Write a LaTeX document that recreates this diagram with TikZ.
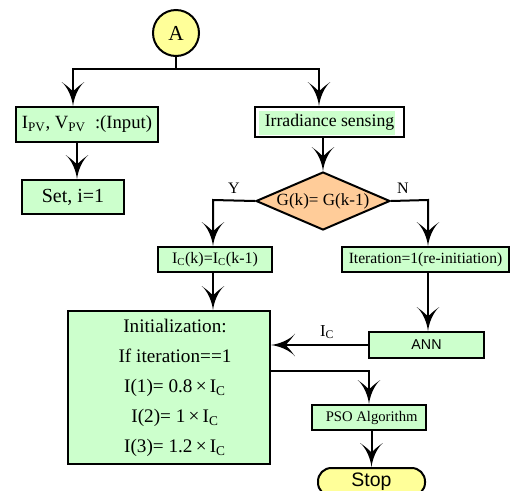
\documentclass[tikz,border=0pt]{standalone}
\usepackage{fontspec}
\setmainfont{Liberation Serif}
\newfontfamily\arialfont{Liberation Sans}
\usetikzlibrary{arrows.meta,shapes.geometric}

% Flared arrow head with concave sides and a notched back
\pgfdeclarearrow{
  name = Flare,
  parameters = {\the\pgfarrowlength,\the\pgfarrowwidth},
  setup code = {
    \pgfarrowssettipend{0pt}
    \pgfarrowssetbackend{-\pgfarrowlength}
    \pgfarrowssetvisualbackend{-0.6\pgfarrowlength}
    \pgfarrowssetlineend{-0.5\pgfarrowlength}
    \pgfarrowshullpoint{0pt}{0pt}
    \pgfarrowshullpoint{-\pgfarrowlength}{0.5\pgfarrowwidth}
    \pgfarrowshullpoint{-\pgfarrowlength}{-0.5\pgfarrowwidth}
    \pgfarrowssavethe\pgfarrowlength
    \pgfarrowssavethe\pgfarrowwidth
  },
  drawing code = {
    \pgfpathmoveto{\pgfqpoint{0pt}{0pt}}
    \pgfpathcurveto{\pgfqpoint{-0.45\pgfarrowlength}{0.06\pgfarrowwidth}}{\pgfqpoint{-0.85\pgfarrowlength}{0.3\pgfarrowwidth}}{\pgfqpoint{-\pgfarrowlength}{0.5\pgfarrowwidth}}
    \pgfpathcurveto{\pgfqpoint{-0.8\pgfarrowlength}{0.2\pgfarrowwidth}}{\pgfqpoint{-0.66\pgfarrowlength}{0.05\pgfarrowwidth}}{\pgfqpoint{-0.6\pgfarrowlength}{0pt}}
    \pgfpathcurveto{\pgfqpoint{-0.66\pgfarrowlength}{-0.05\pgfarrowwidth}}{\pgfqpoint{-0.8\pgfarrowlength}{-0.2\pgfarrowwidth}}{\pgfqpoint{-\pgfarrowlength}{-0.5\pgfarrowwidth}}
    \pgfpathcurveto{\pgfqpoint{-0.85\pgfarrowlength}{-0.3\pgfarrowwidth}}{\pgfqpoint{-0.45\pgfarrowlength}{-0.06\pgfarrowwidth}}{\pgfqpoint{0pt}{0pt}}
    \pgfpathclose
    \pgfusepathqfill
  },
  defaults = {length = 18pt, width = 17pt}
}

\definecolor{boxgreen}{HTML}{CCFFCC}
\definecolor{decorange}{HTML}{FFCC99}
\definecolor{termyellow}{HTML}{FFFF99}

\tikzset{
  line/.style={line width=1.5pt, black},
  arr/.style={line, -{Flare[length=18pt,width=17pt]}},
  procbox/.style={draw=black, line width=1.5pt, fill=boxgreen, inner sep=0pt,
    align=center},
  decbox/.style={draw=black, line width=1.5pt, fill=decorange, shape=diamond,
    inner sep=0pt, aspect=2.31},
  lbl/.style={inner sep=0pt, font=\fontsize{12}{14}\selectfont},
}

\begin{document}
\begin{tikzpicture}[x=0.75pt, y=-0.75pt]
\useasboundingbox (0,0) rectangle (525,490);

% connector start
\node[draw=black, line width=1.5pt, fill=termyellow, circle, minimum size=34.5pt,
  inner sep=0pt, font=\fontsize{16}{18}\selectfont] (A) at (176,33) {A};

% left branch
\node[procbox, minimum width=106.5pt, minimum height=26.25pt,
  font=\fontsize{14}{16}\selectfont] (in) at (87,124.5)
  {I\textsubscript{PV}, V\textsubscript{PV}\ \ :(Input)};
\node[procbox, minimum width=76.5pt, minimum height=25.5pt,
  font=\fontsize{15}{17}\selectfont] (set) at (73,197) {Set, i=1};

% right branch: sensing box with highlighted label
\fill[boxgreen] (259,111) rectangle (395,135);
\node[draw=black, line width=1.5pt, minimum width=111.75pt, minimum height=22.5pt,
  inner sep=0pt, font=\fontsize{13.3}{15}\selectfont] (irr) at (329.5,122)
  {Irradiance sensing\hspace{5pt}};

\node[decbox, minimum width=100.5pt, minimum height=43.5pt,
  font=\fontsize{12.8}{15}\selectfont] (g) at (323,201) {G(k)= G(k-1)};
\node[lbl] (ylbl) at (234,188) {Y};
\node[lbl] (nlbl) at (403,188) {N};

\node[procbox, minimum width=85.5pt, minimum height=18.75pt,
  font=\fontsize{12}{14}\selectfont] (ic) at (215,259.5)
  {I\textsubscript{C}(k)=I\textsubscript{C}(k-1)};
\node[procbox, minimum width=125.25pt, minimum height=18.75pt,
  font=\fontsize{11.7}{14}\selectfont] (iter) at (425.5,259.5)
  {Iteration=1(re-initiation)};

% initialization block
\node[procbox, minimum width=151.5pt, minimum height=114.75pt] (init) at (169,387.5) {};
\node[inner sep=0pt, align=center, font=\fontsize{14.4}{22.5}\selectfont] (inittxt)
  at (175,388) {Initialization:\\ If iteration==1\\ I(1)= 0.8\,×\,I\textsubscript{C}\\
  I(2)= 1\,×\,I\textsubscript{C}\\ I(3)= 1.2\,×\,I\textsubscript{C}};

\node[procbox, minimum width=86.25pt, minimum height=19.5pt,
  font=\arialfont\fontsize{10.7}{13}\selectfont] (ann) at (426.5,345) {ANN};
\node[procbox, minimum width=85.5pt, minimum height=18.75pt,
  font=\fontsize{11}{13}\selectfont] (pso) at (369,417.5) {\hspace{4pt}PSO Algorithm};
\node[draw=black, line width=1.5pt, fill=termyellow, rounded corners=10pt,
  minimum width=80.25pt, minimum height=21pt, inner sep=0pt,
  font=\arialfont\fontsize{14.6}{17}\selectfont] (stop) at (371.5,482) {Stop};
\node[lbl, font=\fontsize{12.5}{14}\selectfont] (iclbl) at (327,332) {I\textsubscript{C}};

% routing points
\coordinate (sp) at (176,69);
\coordinate (spl) at (73,69);
\coordinate (spr) at (319,69);
\coordinate (yx) at (213,200);
\coordinate (nx) at (428,200);
\coordinate (px) at (369,371);

% connectors
\draw[line] (A.south) -- (sp);
\draw[arr] (sp) -- (spl) -- (spl |- in.north);
\draw[arr] (sp) -- (spr) -- (spr |- irr.north);
\draw[arr] (in.south -| 77,0) -- (set.north -| 77,0);
\draw[arr] (irr.south -| g.north) -- (g.north);
\draw[arr] (g.west) -- (yx) -- (yx |- ic.north);
\draw[arr] (g.east) -- (nx) -- (nx |- iter.north);
\draw[arr] (ic.south -| yx) -- (init.north -| yx);
\draw[arr] (iter.south -| nx) -- (ann.north -| nx);
\draw[arr] (ann.west) -- (ann.west -| init.east);
\draw[arr] (init.east |- px) -- (px) -- (pso.north);
\draw[arr] (pso.south -| stop.north) -- (stop.north);
\end{tikzpicture}
\end{document}
